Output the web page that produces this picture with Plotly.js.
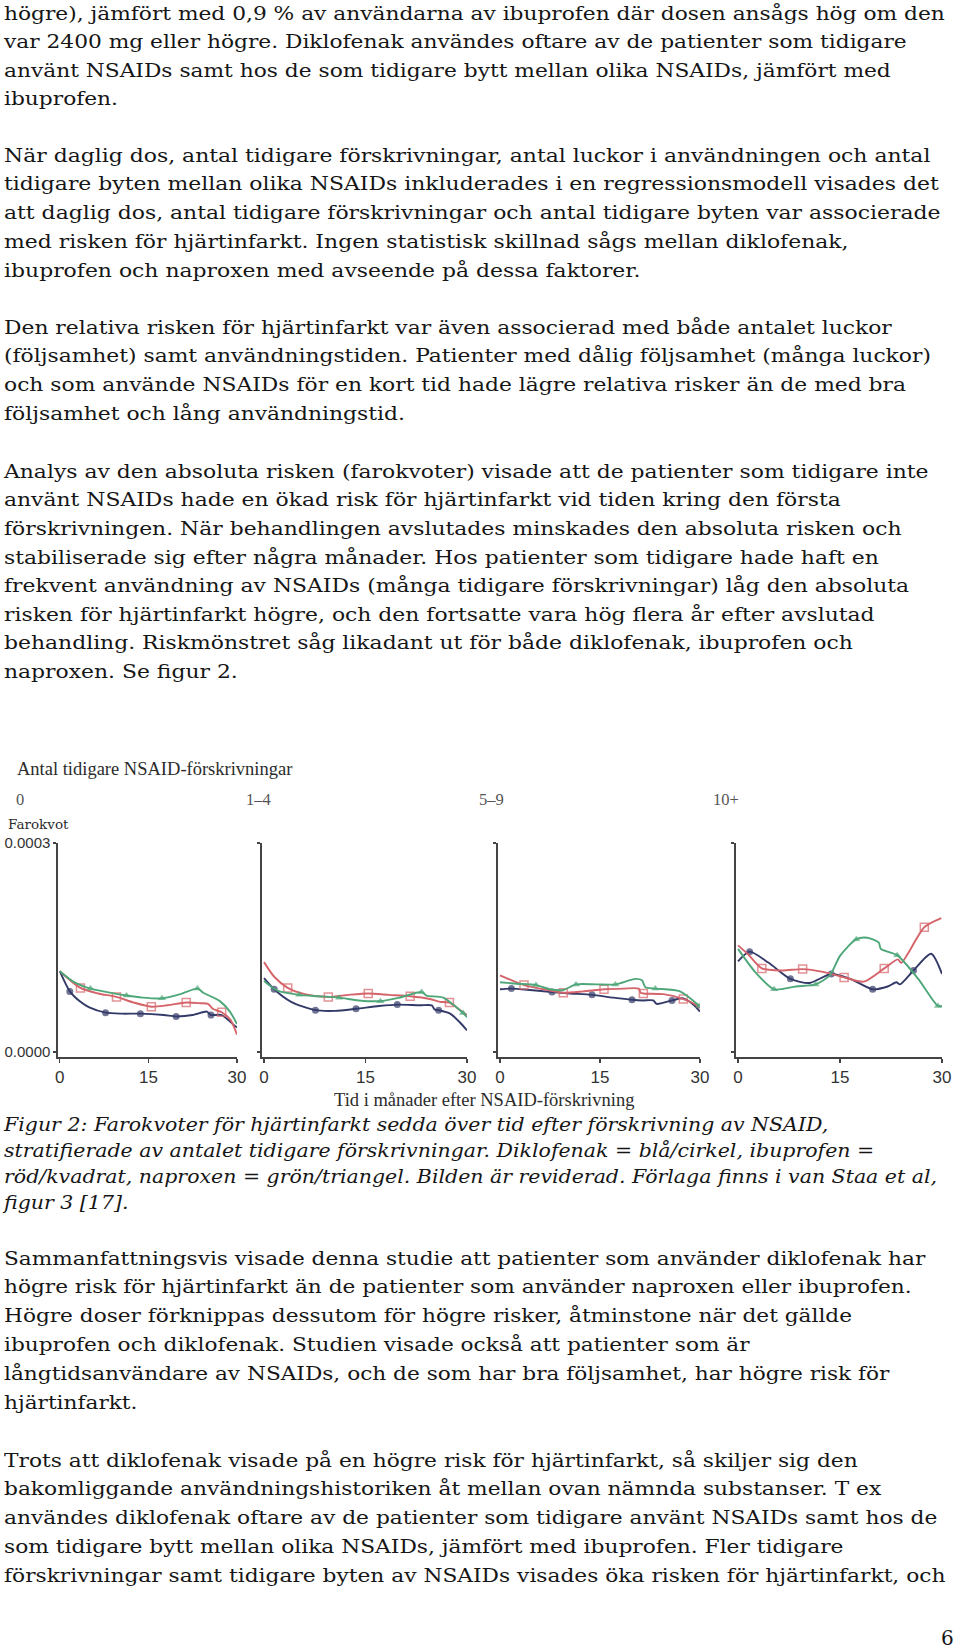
<!DOCTYPE html>
<html>
<head>
<meta charset="utf-8">
<script src="https://cdn.plot.ly/plotly-3.0.1.min.js"></script>
<style>
  html, body { margin:0; padding:0; background:#fff; }
  #page { position:relative; width:960px; height:1651px; overflow:hidden; background:#fff; }
  .ln { position:absolute; left:4px; white-space:nowrap; font-family:"DejaVu Serif", serif; color:#161616; transform-origin:0 50%; }
  #chart { position:absolute; left:0; top:745px; width:960px; height:370px; }
  #pnum { position:absolute; left:941px; top:1626px; font-family:"DejaVu Serif", serif; font-size:20px; color:#161616; }
</style>
</head>
<body>
<div id="page">
  <div id="chart"></div>
  <div id="pnum">6</div>
</div>
<script>
// ---------- Chart data (hazard values in units of 1e-4, months after prescription) ----------
const panelLabels = ["0", "1–4", "5–9", "10+"];
const xTicks = [0, 15, 30];
const yTicks = [0, 0.0003];

// Panel "0"
const blueM0  = [0, 1.7, 3.5, 5, 7.75, 10.5, 13.65, 17.6, 19.7, 22.5, 24.9, 25.3, 25.6, 27.4, 29.3, 30];
const blueV0  = [1.16, 0.87, 0.72, 0.64, 0.565, 0.55, 0.55, 0.53, 0.51, 0.53, 0.58, 0.55, 0.53, 0.53, 0.40, 0.35];
const blueK0  = [1.7, 7.75, 13.65, 19.7, 25.6];
const redM0   = [0, 3.5, 6.5, 9.6, 12.5, 15.5, 18.2, 21.4, 23.8, 25.1, 25.9, 27.4, 28.9, 30];
const redV0   = [1.16, 0.92, 0.84, 0.79, 0.71, 0.65, 0.67, 0.71, 0.70, 0.69, 0.62, 0.57, 0.46, 0.25];
const redK0   = [3.5, 9.6, 15.5, 21.4, 27.4];
const greenM0 = [0, 2.5, 5.2, 8, 11.3, 14, 17.3, 20.4, 23.3, 24.3, 27.1, 28.8, 30];
const greenV0 = [1.16, 1.0, 0.91, 0.86, 0.81, 0.78, 0.77, 0.83, 0.91, 0.85, 0.73, 0.58, 0.40];
const greenK0 = [5.2, 11.3, 17.3, 23.3];

// Panel "1–4"
const blueM1  = [0, 1.5, 4, 7.6, 10.5, 13.6, 17, 19.7, 23, 24.8, 25.2, 25.8, 27.5, 29, 30];
const blueV1  = [1.06, 0.90, 0.72, 0.60, 0.59, 0.62, 0.66, 0.68, 0.67, 0.67, 0.61, 0.60, 0.55, 0.42, 0.31];
const blueK1  = [1.5, 7.6, 13.6, 19.7, 25.8];
const redM1   = [0, 1.5, 3.5, 6, 9.5, 12.5, 15.4, 18.5, 21.6, 24.5, 26, 27.4, 29, 30];
const redV1   = [1.29, 1.08, 0.92, 0.83, 0.79, 0.82, 0.84, 0.82, 0.80, 0.76, 0.72, 0.71, 0.60, 0.53];
const redK1   = [3.5, 9.5, 15.4, 21.6, 27.4];
const greenM1 = [0, 2, 5.2, 8, 11.1, 14, 17.2, 20, 23.3, 24, 26.5, 29.4, 30];
const greenV1 = [1.02, 0.88, 0.82, 0.80, 0.78, 0.74, 0.73, 0.78, 0.86, 0.81, 0.78, 0.56, 0.50];
const greenK1 = [5.2, 11.1, 17.2, 23.3, 29.4];

// Panel "5–9"
const blueM2  = [0, 1.7, 4.5, 7.8, 10.5, 13.8, 17, 19.8, 21.5, 23, 23.5, 25.8, 27.5, 29, 30];
const blueV2  = [0.90, 0.91, 0.89, 0.86, 0.84, 0.82, 0.78, 0.75, 0.74, 0.74, 0.69, 0.74, 0.77, 0.68, 0.58];
const blueK2  = [1.7, 7.8, 13.8, 19.8, 25.8];
const redM2   = [0, 3.6, 6.5, 9.5, 12.5, 15.6, 18.5, 20.8, 21.1, 21.5, 24.5, 27.5, 29, 30];
const redV2   = [1.10, 0.96, 0.90, 0.85, 0.87, 0.90, 0.91, 0.91, 0.85, 0.84, 0.83, 0.76, 0.70, 0.63];
const redK2   = [3.6, 9.5, 15.6, 21.5, 27.5];
const greenM2 = [0, 2.5, 5.4, 7.5, 9.5, 11.4, 14.5, 17.3, 20.3, 21.3, 21.8, 23.3, 27, 29.9];
const greenV2 = [1.00, 0.98, 0.96, 0.90, 0.89, 0.97, 0.97, 0.97, 1.05, 1.03, 0.93, 0.91, 0.87, 0.66];
const greenK2 = [5.4, 11.4, 17.3, 23.3, 29.9];

// Panel "10+"
const blueM3  = [0, 1.7, 4.5, 7.7, 10.5, 13.7, 16.5, 19.8, 22, 23.3, 23.8, 25.8, 28.4, 30];
const blueV3  = [1.30, 1.44, 1.28, 1.05, 0.99, 1.12, 1.05, 0.90, 0.94, 1.00, 0.97, 1.17, 1.41, 1.12];
const blueK3  = [1.7, 7.7, 13.7, 19.8, 25.8];
const redM3   = [0, 1.5, 3.5, 6.5, 9.5, 12.5, 15.6, 18.5, 21.5, 23.5, 24, 27.4, 29.9];
const redV3   = [1.53, 1.40, 1.20, 1.17, 1.19, 1.15, 1.07, 1.01, 1.20, 1.33, 1.28, 1.79, 1.92];
const redK3   = [3.5, 9.5, 15.6, 21.5, 27.4];
const greenM3 = [0, 2.5, 5.3, 8.5, 11.4, 13.5, 15, 17.4, 19, 20.7, 21, 23.4, 26.5, 29.4, 30];
const greenV3 = [1.48, 1.15, 0.90, 0.94, 0.97, 1.10, 1.38, 1.62, 1.64, 1.57, 1.48, 1.39, 1.05, 0.66, 0.66];
const greenK3 = [5.3, 11.4, 17.4, 23.4, 29.4];

const series = [
  [[blueM0, blueV0, blueK0], [redM0, redV0, redK0], [greenM0, greenV0, greenK0]],
  [[blueM1, blueV1, blueK1], [redM1, redV1, redK1], [greenM1, greenV1, greenK1]],
  [[blueM2, blueV2, blueK2], [redM2, redV2, redK2], [greenM2, greenV2, greenK2]],
  [[blueM3, blueV3, blueK3], [redM3, redV3, redK3], [greenM3, greenV3, greenK3]]
];
const seriesNames = ["Diklofenak", "Ibuprofen", "Naproxen"];

// ---------- styling ----------
const colors = ["#333a68", "#d5646a", "#4ea779"];
const markerStyles = [
  {symbol: "circle", size: 7, fill: true},
  {symbol: "square-open", size: 8, fill: false},
  {symbol: "triangle-up", size: 7, fill: true}
];
const H = 370, TOP = 745, W = 960;
const py = v => 1 - (v - TOP) / H;
const px = v => v / W;
const xDomPx = [[58, 237], [262, 467], [498, 700], [736, 942]];
const yDomPx = [843, 1057];

const traces = [];
series.forEach((panel, p) => {
  panel.forEach((s, k) => {
    const [m, v, keys] = s;
    const st = markerStyles[k];
    traces.push({
      type: "scatter", mode: "lines+markers",
      name: seriesNames[k],
      x: m, y: v.map(a => a * 1e-4),
      xaxis: "x" + (p + 1), yaxis: "y" + (p + 1),
      line: {color: colors[k], width: 1.9, shape: "spline", smoothing: 0.7},
      marker: {
        symbol: st.symbol, color: colors[k],
        size: m.map(a => keys.indexOf(a) >= 0 ? st.size : 0),
        line: {color: colors[k], width: st.fill ? 0 : 1.5}
      },
      showlegend: false, hoverinfo: "skip"
    });
  });
});

const layout = {
  width: W, height: H,
  margin: {l: 0, r: 0, t: 0, b: 0},
  paper_bgcolor: "rgba(0,0,0,0)", plot_bgcolor: "rgba(0,0,0,0)",
  showlegend: false,
  annotations: [
    {text: "Antal tidigare NSAID-förskrivningar", x: px(15), y: py(769), xref: "paper", yref: "paper",
     xanchor: "left", yanchor: "middle", showarrow: false,
     font: {family: "Liberation Serif", size: 18.5, color: "#2b2b2b"}},
    {text: "Farokvot", x: px(6), y: py(824), xref: "paper", yref: "paper",
     xanchor: "left", yanchor: "middle", showarrow: false,
     font: {family: "DejaVu Serif", size: 13.5, color: "#2b2b2b"}},
    {text: "Tid i månader efter NSAID-förskrivning", x: px(484), y: py(1100), xref: "paper", yref: "paper",
     xanchor: "center", yanchor: "middle", showarrow: false,
     font: {family: "Liberation Serif", size: 18.5, color: "#2b2b2b"}}
  ]
};
const labelX = [20, 258, 491, 726];
panelLabels.forEach((t, p) => {
  layout.annotations.push({text: t, x: px(labelX[p]), y: py(799), xref: "paper", yref: "paper",
    xanchor: "center", yanchor: "middle", showarrow: false,
    font: {family: "Liberation Serif", size: 16.5, color: "#555"}});
  const n = p === 0 ? "" : String(p + 1);
  layout["xaxis" + n] = {
    domain: [px(xDomPx[p][0]), px(xDomPx[p][1])], anchor: "y" + (p + 1),
    range: [-0.3, 30], tickvals: xTicks, ticks: "outside", ticklen: 4, tickwidth: 1.2,
    tickcolor: "#444", showline: true, linecolor: "#444", linewidth: 1.6,
    showgrid: false, zeroline: false,
    tickfont: {family: "Liberation Sans", size: 17, color: "#333"}
  };
  layout["yaxis" + n] = {
    domain: [py(yDomPx[1]), py(yDomPx[0])], anchor: "x" + (p + 1),
    range: [-0.0000072, 0.0003], tickvals: yTicks, tickformat: ".4f",
    ticks: "outside", ticklen: 3, tickwidth: 1.2, tickcolor: "#444",
    showline: true, linecolor: "#444", linewidth: 1.6,
    showgrid: false, zeroline: false, showticklabels: p === 0,
    tickfont: {family: "Liberation Sans", size: 15, color: "#333"}
  };
});
Plotly.newPlot("chart", traces, layout, {staticPlot: true, displayModeBar: false});

// ---------- page text ----------
const blocks = [
  {top: 14, lh: 28.4, italic: false, lines: [
    ["högre), jämfört med 0,9 % av användarna av ibuprofen där dosen ansågs hög om den", 942],
    ["var 2400 mg eller högre. Diklofenak användes oftare av de patienter som tidigare", 900],
    ["använt NSAIDs samt hos de som tidigare bytt mellan olika NSAIDs, jämfört med", 900],
    ["ibuprofen.", null]]},
  {top: 156, lh: 28.9, italic: false, lines: [
    ["När daglig dos, antal tidigare förskrivningar, antal luckor i användningen och antal", 926],
    ["tidigare byten mellan olika NSAIDs inkluderades i en regressionsmodell visades det", 929],
    ["att daglig dos, antal tidigare förskrivningar och antal tidigare byten var associerade", 926],
    ["med risken för hjärtinfarkt. Ingen statistisk skillnad sågs mellan diklofenak,", 879],
    ["ibuprofen och naproxen med avseende på dessa faktorer.", 637]]},
  {top: 328, lh: 28.7, italic: false, lines: [
    ["Den relativa risken för hjärtinfarkt var även associerad med både antalet luckor", 887],
    ["(följsamhet) samt användningstiden. Patienter med dålig följsamhet (många luckor)", 940],
    ["och som använde NSAIDs för en kort tid hade lägre relativa risker än de med bra", 902],
    ["följsamhet och lång användningstid.", null]]},
  {top: 472, lh: 28.6, italic: false, lines: [
    ["Analys av den absoluta risken (farokvoter) visade att de patienter som tidigare inte", 922],
    ["använt NSAIDs hade en ökad risk för hjärtinfarkt vid tiden kring den första", 839],
    ["förskrivningen. När behandlingen avslutades minskades den absoluta risken och", 901],
    ["stabiliserade sig efter några månader. Hos patienter som tidigare hade haft en", 903],
    ["frekvent användning av NSAIDs (många tidigare förskrivningar) låg den absoluta", 907],
    ["risken för hjärtinfarkt högre, och den fortsatte vara hög flera år efter avslutad", 861],
    ["behandling. Riskmönstret såg likadant ut för både diklofenak, ibuprofen och", 853],
    ["naproxen. Se figur 2.", null]]},
  {top: 1125, lh: 26, italic: true, lines: [
    ["Figur 2: Farokvoter för hjärtinfarkt sedda över tid efter förskrivning av NSAID,", 826],
    ["stratifierade av antalet tidigare förskrivningar. Diklofenak = blå/cirkel, ibuprofen =", 872],
    ["röd/kvadrat, naproxen = grön/triangel. Bilden är reviderad. Förlaga finns i van Staa et al,", 942],
    ["figur 3 [17].", null]]},
  {top: 1259, lh: 28.8, italic: false, lines: [
    ["Sammanfattningsvis visade denna studie att patienter som använder diklofenak har", 903],
    ["högre risk för hjärtinfarkt än de patienter som använder naproxen eller ibuprofen.", 916],
    ["Högre doser förknippas dessutom för högre risker, åtminstone när det gällde", 857],
    ["ibuprofen och diklofenak. Studien visade också att patienter som är", 755],
    ["långtidsanvändare av NSAIDs, och de som har bra följsamhet, har högre risk för", 895],
    ["hjärtinfarkt.", null]]},
  {top: 1461, lh: 28.8, italic: false, lines: [
    ["Trots att diklofenak visade på en högre risk för hjärtinfarkt, så skiljer sig den", 854],
    ["bakomliggande användningshistoriken åt mellan ovan nämnda substanser. T ex", 877],
    ["användes diklofenak oftare av de patienter som tidigare använt NSAIDs samt hos de", 940],
    ["som tidigare bytt mellan olika NSAIDs, jämfört med ibuprofen. Fler tidigare", 849],
    ["förskrivningar samt tidigare byten av NSAIDs visades öka risken för hjärtinfarkt, och", 945]]}
];
const page = document.getElementById("page");
blocks.forEach(b => {
  const els = [];
  let ratioSum = 0, cnt = 0;
  b.lines.forEach(([txt, target], i) => {
    const d = document.createElement("div");
    d.className = "ln";
    d.textContent = txt;
    d.style.fontSize = b.italic ? "18.5px" : "18px";
    if (b.italic) d.style.fontStyle = "italic";
    d.style.lineHeight = b.lh + "px";
    d.style.height = b.lh + "px";
    d.style.top = (b.top + i * b.lh - b.lh / 2) + "px";
    page.appendChild(d);
    els.push(d);
    if (target) {
      const w = d.getBoundingClientRect().width;
      ratioSum += (target - 4) / w; cnt++;
    }
  });
  const sc = cnt ? ratioSum / cnt : 1;
  els.forEach(d => { d.style.transform = "scaleX(" + sc.toFixed(4) + ")"; });
});
</script>
</body>
</html>
